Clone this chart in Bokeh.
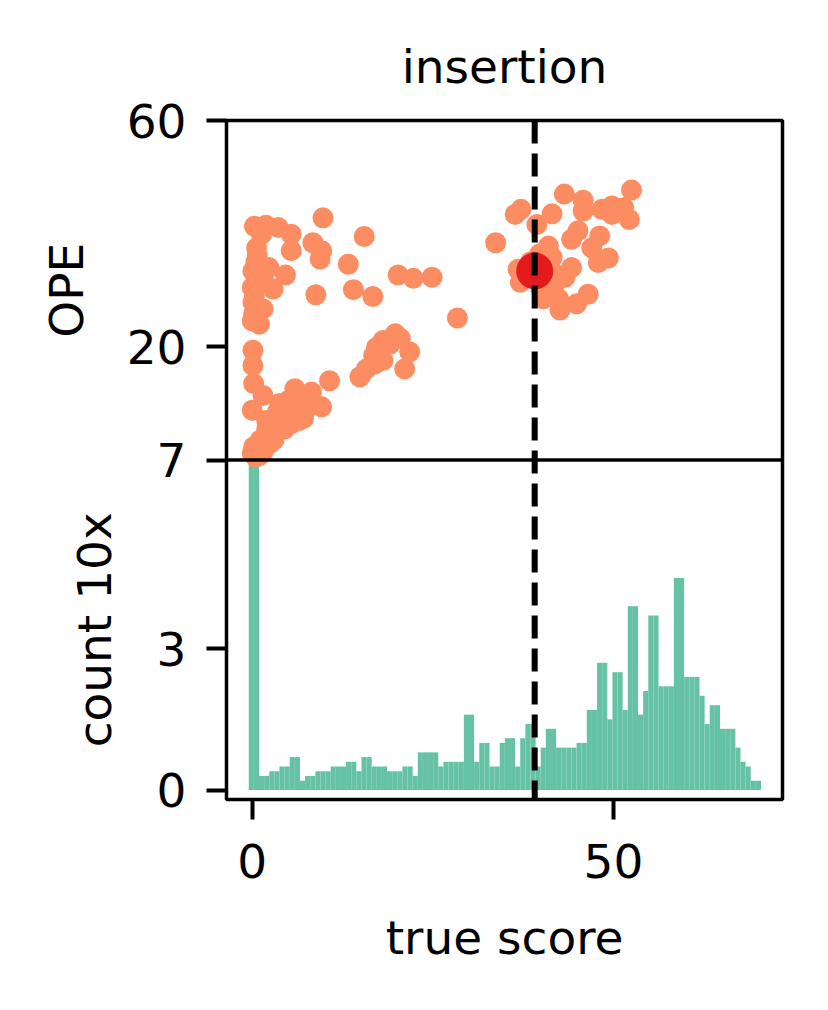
import numpy as np
from bokeh.plotting import figure
from bokeh.layouts import row
from bokeh.models import (Range1d, FixedTicker, CustomJSTickFormatter, Span, Label,
                          ColumnDataSource)
from bokeh.embed import file_html
from bokeh.resources import INLINE

# ---------------- data ----------------
# scatter: true score vs OPE
score_pts = [9.8, 0.3, 1.9, 1.3, 3.6, 5.4, 5.4, 8.4, 9.6, 9.4, 15.5, 13.3, 0.7, 0.1, 1.5, 4.6,
             0.0, 2.9, 0.1, 1.5, 0.0, 8.8, 14.0, 16.7, 20.2, 22.3, 24.9, 28.4, 33.7,
             0.5, 1.0, 0.3, 0.6, 2.3, 0.2, 1.0,
             0.1, 0.1, 0.2, 1.5, 0.0,
             5.9, 8.2, 9.6, 10.7, 3.8, 5.7, 7.1, 2.0, 1.1, 0.2, 2.4, 4.3, 0.0, 1.5, 4.7, 7.1,
             3.0, 3.5, 4.0, 5.0, 6.0, 6.5, 7.5, 8.0, 5.0, 6.5, 2.5, 1.0, 0.5, 3.0, 4.5, 5.5,
             6.5, 3.5, 2.0,
             19.8, 18.1, 17.2, 21.8, 16.8, 18.1, 21.1, 15.8, 14.9, 19.1, 20.5, 17.0,
             37.2, 36.4, 39.4, 41.5, 43.2, 45.8, 45.8, 48.4, 49.8, 49.8, 51.4, 52.5, 52.2,
             45.1, 44.2, 48.1, 47.0, 49.3, 47.9, 41.0, 41.5, 44.2, 43.3, 36.8, 37.1, 40.3,
             42.4, 42.6, 44.9, 46.5, 41.9, 39.8, 41.5, 40.5, 40.0, 38.5]
ope_pts = [42.8, 41.3, 41.5, 39.9, 41.1, 39.9, 37.0, 38.4, 37.0, 35.5, 39.5, 34.6, 36.1, 33.4,
           32.3, 32.7, 30.5, 30.2, 27.9, 26.7, 24.6, 29.2, 30.1, 28.9, 32.7, 32.1, 32.3, 25.1,
           38.4,
           35.0, 31.0, 29.0, 37.5, 34.0, 25.8, 24.0,
           19.4, 16.7, 13.5, 11.4, 8.8,
           12.6, 12.0, 9.4, 14.0, 10.0, 7.6, 7.3, 5.3, 3.5, 2.3, 4.1, 6.5, 1.2, 1.5, 8.8, 10.0,
           5.0, 6.0, 7.0, 8.0, 9.0, 8.5, 9.0, 10.5, 10.5, 11.0, 3.0, 0.8, 0.5, 3.5, 5.5, 6.5,
           7.0, 8.5, 7.0,
           22.3, 21.1, 19.9, 19.1, 18.5, 17.6, 16.1, 16.1, 14.7, 20.5, 21.5, 17.0,
           44.3, 43.4, 41.6, 43.5, 47.0, 45.9, 44.0, 44.3, 44.9, 43.4, 44.6, 47.7, 42.5,
           40.5, 39.0, 39.6, 37.5, 35.7, 34.9, 37.8, 35.8, 34.0, 32.3, 33.7, 31.4, 28.5,
           28.5, 26.5, 27.6, 29.3, 31.1, 36.4, 33.4, 32.0, 30.0, 35.0]

# highlighted reference point
ref_score = [39.1]
ref_ope = [33.4]

# histogram of true scores (count / 10), 100 equal bins
hist_start = -0.48
hist_bin_width = 0.709
hist_counts = [9.0, 9.0, 0.3, 0.3, 0.4, 0.4, 0.5, 0.5, 0.7, 0.7,
               0.2, 0.3, 0.3, 0.4, 0.4, 0.4, 0.5, 0.5, 0.5, 0.6,
               0.6, 0.4, 0.7, 0.7, 0.5, 0.5, 0.5, 0.4, 0.4, 0.4,
               0.5, 0.5, 0.3, 0.8, 0.8, 0.8, 0.8, 0.5, 0.6, 0.6,
               0.6, 0.6, 1.6, 1.6, 0.6, 1.0, 1.0, 0.5, 0.5, 1.0,
               1.1, 1.1, 0.5, 1.1, 1.4, 1.4, 0.5, 0.9, 1.3, 1.3,
               0.9, 0.9, 0.9, 0.9, 1.0, 1.0, 1.7, 1.7, 2.7, 2.7,
               1.5, 2.5, 2.5, 1.7, 3.9, 3.9, 1.6, 2.1, 3.7, 3.7,
               2.2, 2.2, 2.2, 4.5, 4.5, 2.4, 2.4, 2.4, 2.0, 1.4,
               1.8, 1.8, 1.3, 1.3, 1.3, 0.9, 0.6, 0.5, 0.2, 0.2]

x_ticks = [0, 50]
ope_ticks = [20, 60]
count_ticks = [0, 3, 7]

# axis limits
X_LO, X_HI = -3.56, 73.4
OPE_LO, OPE_HI = 0.0, 60.0
HIST_LO, HIST_HI = -0.2, 7.0
TOP_FRAC = 0.5  # share of the frame height used by the OPE panel

# ---------------- styling ----------------
FONT = "DejaVu Sans"
FS = "47px"
ORANGE = "#fc8d62"
GREEN = "#66c2a5"
RED = "#e41a1c"

H = 994
BORDER_TOP, BORDER_BOTTOM = 120, 195
LABEL_W = 123

CNT_TOP = HIST_LO + (HIST_HI - HIST_LO) / (1 - TOP_FRAC)
OPE_BOT = OPE_HI - (OPE_HI - OPE_LO) / TOP_FRAC


def ope_to_count_axis(v):
    return min(HIST_HI + (v - OPE_LO) / (OPE_HI - OPE_LO) * (CNT_TOP - HIST_HI), CNT_TOP)


y_cnt = Range1d(HIST_LO, CNT_TOP)
y_ope = Range1d(OPE_BOT, OPE_HI)

p = figure(width=812 - LABEL_W, height=H, output_backend="svg", toolbar_location=None,
           x_range=Range1d(X_LO, X_HI), y_range=y_cnt,
           min_border_left=102, min_border_right=30, min_border_top=BORDER_TOP,
           min_border_bottom=BORDER_BOTTOM)
p.extra_y_ranges = {"ope": y_ope}

p.background_fill_color = "white"
p.border_fill_color = "white"
p.xgrid.visible = False
p.ygrid.visible = False
p.outline_line_color = "black"
p.outline_line_width = 3.5

# histogram
counts = np.array(hist_counts)
left = hist_start + hist_bin_width * np.arange(len(counts))
right = left + hist_bin_width
hsrc = ColumnDataSource(dict(left=left, right=right, top=np.minimum(counts, HIST_HI)))
p.quad(left="left", right="right", bottom=0, top="top", source=hsrc,
       fill_color=GREEN, line_color=None)

# scatter
p.scatter(score_pts, ope_pts, y_range_name="ope", size=21, fill_color=ORANGE,
          line_color=None)
p.scatter(ref_score, ref_ope, y_range_name="ope", size=37, fill_color=RED, line_color=None)

# panel separator and reference line
p.add_layout(Span(location=HIST_HI, dimension="width", line_color="black", line_width=3.5))
p.add_layout(Span(location=ref_score[0], dimension="height", line_color="black",
                  line_width=6, line_dash="23 10"))

# axes
yax = p.yaxis[0]
yax.ticker = FixedTicker(ticks=count_ticks + [ope_to_count_axis(v) for v in ope_ticks])
yax.formatter = CustomJSTickFormatter(
    args=dict(h=HIST_HI, top=CNT_TOP, lo=OPE_LO, hi=OPE_HI),
    code="""
    if (tick > h + 1e-6) { return String(Math.round(lo + (tick - h) / (top - h) * (hi - lo))); }
    return String(Math.round(tick));
    """)
xax = p.xaxis[0]
xax.ticker = FixedTicker(ticks=x_ticks)
xax.axis_label = "true score"
xax.axis_label_standoff = 29
xax.major_label_standoff = 24
yax.major_label_standoff = 20

for ax in (xax, yax):
    ax.axis_line_color = None
    ax.major_tick_out = 20
    ax.major_tick_in = 0
    ax.major_tick_line_width = 4
    ax.major_tick_line_color = "black"
    ax.minor_tick_line_color = None
    ax.major_label_text_font = FONT
    ax.major_label_text_font_size = FS
    ax.major_label_text_color = "black"
    ax.axis_label_text_font = FONT
    ax.axis_label_text_font_size = FS
    ax.axis_label_text_font_style = "normal"
    ax.axis_label_text_color = "black"

# title
p.title.text = "insertion"
p.title.align = "center"
p.title.text_font = FONT
p.title.text_font_size = FS
p.title.text_font_style = "normal"
p.title.text_color = "black"
p.title.standoff = 53

# strip on the left holding the two panels' y-axis labels
lab = figure(width=LABEL_W, height=H, output_backend="svg", toolbar_location=None,
             x_range=Range1d(0, 1), y_range=y_cnt, x_axis_location=None,
             y_axis_location=None, min_border_left=0, min_border_right=0,
             min_border_top=BORDER_TOP, min_border_bottom=BORDER_BOTTOM)
lab.extra_y_ranges = {"ope": y_ope}
lab.outline_line_color = None
lab.xgrid.visible = False
lab.ygrid.visible = False
lab.background_fill_color = "white"
lab.border_fill_color = "white"
lab.add_layout(Label(x=66, x_units="screen", y=(OPE_LO + OPE_HI) / 2, y_range_name="ope",
                     text="OPE", angle=90, angle_units="deg", text_align="center",
                     text_baseline="alphabetic", text_font=FONT, text_font_size=FS,
                     text_color="black"))
lab.add_layout(Label(x=94, x_units="screen", y=(HIST_LO + HIST_HI) / 2,
                     text="count 10x", angle=90, angle_units="deg", text_align="center",
                     text_baseline="alphabetic", text_font=FONT, text_font_size=FS,
                     text_color="black"))

layout = row(lab, p)
open("out.html", "w").write(file_html(layout, INLINE))
